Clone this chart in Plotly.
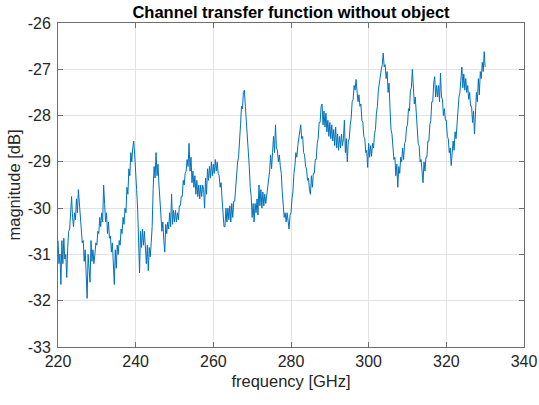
import numpy as np
import plotly.graph_objects as go

# magnitude [dB] sampled every 0.25 GHz, one list per 10 GHz band
mag_220s = [-30.7, -31.2, -31.0, -31.65, -30.7, -31.2, -30.65, -31.1,
            -31.0, -31.5, -30.85, -30.5, -30.45, -30.1, -29.75, -30.2,
            -30.4, -30.1, -30.25, -29.8, -30.1, -29.6, -29.85, -30.25,
            -30.35, -30.75, -30.7, -31.15, -30.9, -31.4, -31.95, -31.0,
            -31.3, -31.6, -30.7, -31.15, -30.9, -31.2, -31.0, -30.75]
mag_230s = [-30.8, -30.5, -30.55, -30.2, -30.4, -30.1, -30.3, -29.5,
            -29.9, -30.3, -30.1, -30.55, -30.3, -30.65, -30.6, -30.95,
            -30.75, -31.25, -31.65, -30.9, -31.3, -30.8, -31.0, -30.7,
            -30.8, -30.45, -30.55, -30.2, -30.35, -30.0, -30.1, -29.55,
            -29.7, -29.15, -29.3, -28.8, -29.0, -28.7, -28.55, -28.85]
mag_240s = [-29.15, -29.6, -30.0, -30.6, -31.4, -30.5, -30.85, -30.45,
            -30.8, -30.5, -30.9, -31.2, -30.8, -31.35, -30.85, -31.05,
            -30.75, -30.4, -29.6, -29.1, -29.35, -28.8, -29.3, -29.05,
            -29.5, -29.95, -30.15, -30.5, -30.3, -30.7, -30.95, -30.35,
            -30.55, -30.3, -30.45, -30.1, -30.4, -29.7, -30.35, -30.05]
mag_250s = [-30.3, -30.05, -30.3, -30.1, -30.25, -29.95, -29.95, -29.75,
            -29.75, -29.4, -29.5, -29.25, -29.2, -28.95, -29.1, -28.6,
            -29.2, -28.9, -29.45, -29.2, -29.55, -29.3, -29.7, -29.4,
            -29.75, -29.5, -29.8, -29.5, -29.75, -29.5, -29.6, -30.0,
            -29.35, -29.7, -29.15, -29.4, -29.1, -29.35, -29.0, -29.3]
mag_260s = [-29.05, -29.25, -28.95, -29.2, -29.0, -29.25, -29.3, -29.55,
            -29.45, -29.8, -30.05, -30.4, -30.4, -30.0, -30.3, -30.0,
            -30.25, -29.95, -30.3, -29.9, -30.2, -29.85, -29.85, -29.5,
            -29.35, -29.0, -28.9, -28.35, -28.2, -27.8, -27.85, -27.5,
            -27.45, -27.8, -28.1, -28.45, -28.9, -29.1, -29.55, -29.75]
mag_270s = [-30.2, -29.9, -30.3, -29.9, -30.1, -29.8, -30.15, -29.5,
            -29.95, -29.6, -30.0, -29.65, -29.95, -29.7, -29.9, -29.7,
            -29.65, -29.35, -29.2, -28.85, -29.15, -28.8, -28.45, -28.8,
            -28.2, -28.7, -28.75, -29.0, -28.85, -29.1, -29.25, -29.65,
            -29.85, -30.2, -30.1, -30.3, -30.1, -30.3, -30.45, -30.15]
mag_280s = [-30.1, -29.8, -29.65, -29.25, -29.1, -28.8, -28.9, -28.65,
            -28.5, -28.25, -28.2, -28.5, -28.45, -28.8, -28.85, -29.1,
            -29.15, -29.4, -29.35, -29.6, -29.7, -29.3, -29.55, -29.25,
            -29.25, -28.95, -28.95, -28.6, -28.5, -28.15, -28.15, -27.8,
            -27.75, -28.2, -27.9, -28.25, -27.95, -28.35, -28.1, -28.45]
mag_290s = [-28.15, -28.5, -28.2, -28.55, -28.3, -28.65, -28.25, -28.7,
            -28.4, -28.75, -28.45, -28.7, -28.4, -28.65, -28.5, -28.1,
            -28.8, -28.5, -29.0, -28.55, -28.5, -28.2, -28.05, -27.7,
            -27.65, -27.35, -27.45, -27.22, -27.5, -27.7, -27.55, -27.8,
            -27.75, -28.1, -28.15, -28.45, -28.5, -28.8, -28.75, -29.12]
mag_300s = [-28.6, -28.9, -28.65, -28.88, -28.6, -28.7, -28.4, -28.3,
            -27.95, -27.8, -27.45, -27.3, -27.05, -27.0, -26.9, -26.65,
            -26.95, -26.9, -27.2, -27.05, -27.5, -27.3, -27.85, -28.3,
            -28.4, -28.7, -28.95, -28.9, -29.3, -29.05, -29.55, -29.1,
            -29.25, -28.9, -29.0, -28.7, -28.95, -28.6, -28.55, -28.25]
mag_310s = [-28.2, -27.85, -27.9, -27.45, -27.4, -27.0, -27.4, -27.75,
            -27.6, -28.0, -28.15, -28.6, -28.65, -29.0, -28.95, -29.35,
            -29.45, -29.0, -29.2, -28.9, -28.9, -28.55, -28.55, -28.2,
            -28.1, -27.7, -27.7, -27.3, -27.16, -27.6, -27.35, -27.6,
            -27.35, -27.7, -27.08, -27.6, -27.65, -28.0, -27.85, -28.1]
mag_320s = [-28.1, -28.45, -28.5, -28.8, -28.7, -29.08, -28.8, -28.55,
            -28.75, -28.35, -28.5, -28.1, -28.0, -27.6, -27.5, -27.1,
            -26.95, -27.4, -27.1, -27.45, -27.2, -27.5, -27.35, -27.65,
            -27.5, -27.8, -27.8, -28.15, -27.9, -28.4, -27.85, -27.5,
            -27.7, -27.2, -27.55, -27.05, -27.2, -26.85, -27.05, -26.62]
mag_330 = [-26.95]

magnitude = (mag_220s + mag_230s + mag_240s + mag_250s + mag_260s + mag_270s
             + mag_280s + mag_290s + mag_300s + mag_310s + mag_320s + mag_330)
freq_start, freq_step = 220.0, 0.25
frequency = freq_start + freq_step * np.arange(len(magnitude))

x_ticks = [220, 240, 260, 280, 300, 320, 340]
x_tick_labels = ["220", "240", "260", "280", "300", "320", "340"]
y_ticks = [-33, -32, -31, -30, -29, -28, -27, -26]
y_tick_labels = ["-33", "-32", "-31", "-30", "-29", "-28", "-27", "-26"]

FONT = "Liberation Sans, Arial, Helvetica, sans-serif"
TXT = "#262626"
GRID = "#E3E3E3"
AXL = "#6e6e6e"

fig = go.Figure(go.Scatter(x=frequency, y=magnitude, mode="lines",
                           line=dict(color="#0072BD", width=1),
                           showlegend=False))

axis_common = dict(showgrid=True, gridcolor=GRID, gridwidth=1, zeroline=False,
                   showline=True, linecolor=AXL, linewidth=1, mirror="allticks",
                   ticks="inside", ticklen=5, tickcolor=AXL,
                   ticklabeloverflow="allow",
                   tickfont=dict(family=FONT, size=16, color=TXT))

fig.update_xaxes(range=[220, 340], tickvals=x_ticks, ticktext=x_tick_labels,
                 ticklabelstandoff=0,
                 title=dict(text="frequency [GHz]", font=dict(family=FONT, size=16.5, color=TXT), standoff=6),
                 **axis_common)
fig.update_yaxes(range=[-33, -26], tickvals=y_ticks, ticktext=y_tick_labels,
                 ticklabelstandoff=3,
                 title=dict(text="magnitude [dB]", font=dict(family=FONT, size=16.5, color=TXT), standoff=2),
                 **axis_common)

fig.update_layout(
    width=539, height=405,
    margin=dict(l=58, r=15, t=23, b=58, autoexpand=False),
    paper_bgcolor="white", plot_bgcolor="white",
    title=dict(text="<b>Channel transfer function without object</b>",
               font=dict(family=FONT, size=16.5, color="#000000"),
               x=0.5, xref="paper", xanchor="center",
               y=1 - 12 / 405, yref="container", yanchor="middle"),
)

fig.write_html("out.html", config={"displayModeBar": False},
               post_script="document.body.style.margin='0';")
